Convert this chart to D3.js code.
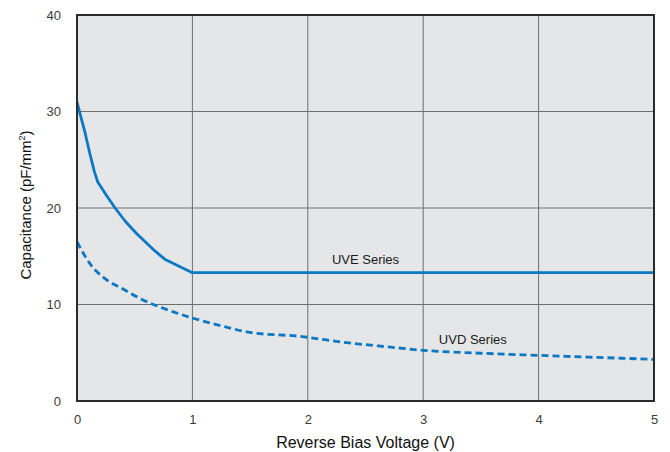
<!DOCTYPE html>
<html>
<head>
<meta charset="utf-8">
<script src="https://cdn.jsdelivr.net/npm/d3@7"></script>
<style>
  body { margin: 0; background: #fff; }
  text { font-family: "Liberation Sans", Arial, Helvetica, sans-serif; }
</style>
</head>
<body>
<svg id="chart" width="670" height="452"></svg>
<script>
// values
var xTicks = [0, 1, 2, 3, 4, 5];
var yTicks = [0, 10, 20, 30, 40];

var uveVoltage = [0, 0.03, 0.07, 0.11, 0.15, 0.18, 0.25, 0.33, 0.42, 0.52, 0.6, 0.68, 0.76, 1.0, 2.0, 3.0, 4.0, 5.0];
var uveCap     = [31.0, 29.6, 27.8, 25.7, 23.8, 22.7, 21.4, 20.0, 18.6, 17.3, 16.4, 15.5, 14.7, 13.3, 13.3, 13.3, 13.3, 13.3];

var uvdVoltage = [0, 0.06, 0.12, 0.24, 0.4, 0.55, 0.75, 1.0, 1.25, 1.5, 1.93, 2.3, 2.7, 3.0, 3.5, 4.0, 4.5, 5.0];
var uvdCap     = [16.5, 15.2, 14.1, 12.7, 11.6, 10.6, 9.6, 8.6, 7.8, 7.1, 6.7, 6.1, 5.6, 5.25, 4.95, 4.73, 4.52, 4.32];

var seriesLabels = [
  { name: "UVE Series", x: 2.5, y: 14.2 },
  { name: "UVD Series", x: 3.43, y: 5.9 }
];

var margin = { top: 15, right: 16, bottom: 51, left: 77 };
var width = 670 - margin.left - margin.right;
var height = 452 - margin.top - margin.bottom;

var svg = d3.select("#chart");
var g = svg.append("g")
    .attr("transform", `translate(${margin.left},${margin.top})`);

var x = d3.scaleLinear().domain([0, 5]).range([0, width]);
var y = d3.scaleLinear().domain([0, 40]).range([height, 0]);

g.append("rect")
    .attr("width", width)
    .attr("height", height)
    .attr("fill", "#e5e6e8");

// grid
g.selectAll(".vgrid")
    .data(xTicks.slice(1, -1))
    .enter().append("line")
    .attr("x1", d => x(d)).attr("x2", d => x(d))
    .attr("y1", 0).attr("y2", height)
    .attr("stroke", "#6e6e6e").attr("stroke-width", 1);

g.selectAll(".hgrid")
    .data(yTicks.slice(1, -1))
    .enter().append("line")
    .attr("x1", 0).attr("x2", width)
    .attr("y1", d => y(d)).attr("y2", d => y(d))
    .attr("stroke", "#6e6e6e").attr("stroke-width", 1);

// tick labels
var xAxis = g.append("g")
    .attr("transform", `translate(0,${height})`)
    .call(d3.axisBottom(x).tickValues(xTicks).tickFormat(d3.format("d")).tickSize(0).tickPadding(14));
var yAxis = g.append("g")
    .call(d3.axisLeft(y).tickValues(yTicks).tickFormat(d3.format("d")).tickSize(0).tickPadding(16));

[xAxis, yAxis].forEach(a => {
  a.select(".domain").remove();
  a.selectAll("text")
      .attr("font-size", 13)
      .attr("font-family", "'Liberation Sans', Arial, sans-serif")
      .attr("fill", "#3a3a3a");
});

// curves
var uveLine = d3.line()
    .x(d => x(d[0]))
    .y(d => y(d[1]));

var uvdLine = d3.line()
    .x(d => x(d[0]))
    .y(d => y(d[1]))
    .curve(d3.curveMonotoneX);

var uve = d3.zip(uveVoltage, uveCap);
var uvd = d3.zip(uvdVoltage, uvdCap);

g.append("path")
    .datum(uve)
    .attr("d", uveLine)
    .attr("fill", "none")
    .attr("stroke", "#0a78c2")
    .attr("stroke-width", 2.8)
    .attr("stroke-linejoin", "round");

g.append("path")
    .datum(uvd)
    .attr("d", uvdLine)
    .attr("fill", "none")
    .attr("stroke", "#0a78c2")
    .attr("stroke-width", 2.8)
    .attr("stroke-dasharray", "7,4");

// frame
g.append("rect")
    .attr("width", width)
    .attr("height", height)
    .attr("fill", "none")
    .attr("stroke", "#2b2b2b")
    .attr("stroke-width", 2);

g.selectAll(".serieslabel")
    .data(seriesLabels)
    .enter().append("text")
    .attr("x", d => x(d.x))
    .attr("y", d => y(d.y))
    .attr("text-anchor", "middle")
    .attr("font-size", 13)
    .attr("fill", "#1a1a1a")
    .text(d => d.name);

// axis titles
svg.append("text")
    .attr("x", margin.left + width / 2)
    .attr("y", 448)
    .attr("text-anchor", "middle")
    .attr("font-size", 16)
    .attr("fill", "#111")
    .text("Reverse Bias Voltage (V)");

var yTitle = svg.append("text")
    .attr("transform", "translate(31,205) rotate(-90)")
    .attr("text-anchor", "middle")
    .attr("font-size", 15)
    .attr("fill", "#111");
yTitle.append("tspan").text("Capacitance (pF/mm");
yTitle.append("tspan").attr("font-size", 9).attr("dy", -6).text("2");
yTitle.append("tspan").attr("dy", 6).text(")");
</script>
</body>
</html>
